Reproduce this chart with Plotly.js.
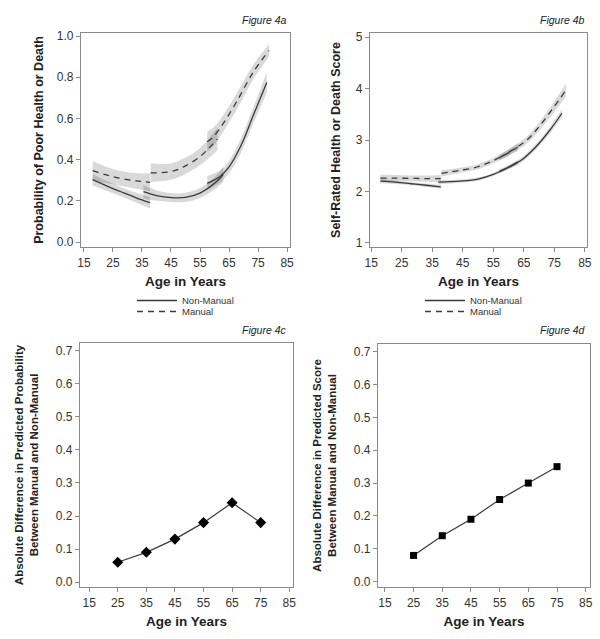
<!DOCTYPE html>
<html>
<head>
<meta charset="utf-8">
<script src="https://cdn.plot.ly/plotly-3.0.1.min.js"></script>
<style>
  html, body { margin: 0; padding: 0; background: #fff; }
  #chart { width: 600px; height: 639px; }
</style>
</head>
<body>
<div id="chart"></div>
<script>
// ---- Figure 4a: probability of poor health or death (age segments) ----
const a_nm1_x = [18, 23, 28, 33, 37.8];
const a_nm1_y = [0.303, 0.272, 0.243, 0.215, 0.191];
const a_nm1_ci = [0.028, 0.024, 0.022, 0.024, 0.028];
const a_nm2_x = [35.5, 40, 45, 50, 55, 60, 63];
const a_nm2_y = [0.245, 0.226, 0.216, 0.217, 0.238, 0.285, 0.328];
const a_nm2_ci = [0.032, 0.026, 0.022, 0.022, 0.024, 0.03, 0.035];
const a_nm3_x = [57.5, 62, 65, 69, 73.5, 78];
const a_nm3_y = [0.285, 0.32, 0.365, 0.465, 0.62, 0.775];
const a_nm3_ci = [0.035, 0.03, 0.03, 0.035, 0.04, 0.05];

const a_m1_x = [18, 23, 28, 33, 37.8];
const a_m1_y = [0.347, 0.325, 0.308, 0.297, 0.29];
const a_m1_ci = [0.047, 0.04, 0.036, 0.038, 0.043];
const a_m2_x = [38, 45, 50, 55, 58, 61];
const a_m2_y = [0.336, 0.342, 0.37, 0.415, 0.455, 0.5];
const a_m2_ci = [0.045, 0.04, 0.04, 0.042, 0.048, 0.055];
const a_m3_x = [57.5, 59.6, 63, 67.6, 73.4, 78.8];
const a_m3_y = [0.487, 0.511, 0.576, 0.681, 0.827, 0.93];
const a_m3_ci = [0.05, 0.045, 0.04, 0.04, 0.035, 0.03];

// ---- Figure 4b: self-rated health or death score ----
const b_nm1_x = [18, 23, 28, 33, 37.8];
const b_nm1_y = [2.2, 2.18, 2.15, 2.12, 2.09];
const b_nm1_ci = [0.04, 0.035, 0.03, 0.035, 0.04];
const b_nm2_x = [37, 44, 50, 55, 60, 63];
const b_nm2_y = [2.18, 2.2, 2.24, 2.33, 2.47, 2.57];
const b_nm2_ci = [0.04, 0.03, 0.03, 0.03, 0.035, 0.04];
const b_nm3_x = [57, 60, 64, 69, 73.5, 77.5];
const b_nm3_y = [2.39, 2.47, 2.6, 2.87, 3.19, 3.52];
const b_nm3_ci = [0.04, 0.04, 0.045, 0.05, 0.065, 0.08];

const b_m1_x = [18, 23, 28, 33, 37.8];
const b_m1_y = [2.26, 2.258, 2.255, 2.25, 2.25];
const b_m1_ci = [0.07, 0.06, 0.055, 0.06, 0.07];
const b_m2_x = [38, 44, 50, 55, 60, 63];
const b_m2_y = [2.35, 2.41, 2.48, 2.6, 2.75, 2.86];
const b_m2_ci = [0.06, 0.05, 0.05, 0.05, 0.06, 0.07];
const b_m3_x = [57, 60, 66, 70, 74.6, 78.8];
const b_m3_y = [2.66, 2.76, 3.0, 3.26, 3.62, 3.97];
const b_m3_ci = [0.06, 0.06, 0.07, 0.08, 0.1, 0.13];

// ---- Figures 4c / 4d: absolute difference ----
const diffAges = [25, 35, 45, 55, 65, 75];
const diffProb = [0.06, 0.09, 0.13, 0.18, 0.24, 0.18];
const diffScore = [0.08, 0.14, 0.19, 0.25, 0.30, 0.35];

const ageTicks = [15, 25, 35, 45, 55, 65, 75, 85];
const probTicks = [0, 0.2, 0.4, 0.6, 0.8, 1.0];
const scoreTicks = [1, 2, 3, 4, 5];
const diffTicks = [0, 0.1, 0.2, 0.3, 0.4, 0.5, 0.6, 0.7];

const W = 600, H = 639;
const FONT = 'Liberation Sans, Arial, sans-serif';
const INK = '#333333';
const FRAME = '#8a8a8a';
const BAND = 'rgba(0,0,0,0.15)';
const DASH = '6px,5px';

const bands = [];
const lines = [];

// one age segment: lower/upper band edges, then the fitted line on top
function segment(x, y, ci, dashed, xa, ya, name, legendId) {
    bands.push({
        x: x, y: y.map((v, i) => v - ci[i]), xaxis: xa, yaxis: ya,
        type: 'scatter', mode: 'lines', line: { width: 0, shape: 'spline' },
        showlegend: false, hoverinfo: 'skip'
    });
    bands.push({
        x: x, y: y.map((v, i) => v + ci[i]), xaxis: xa, yaxis: ya,
        type: 'scatter', mode: 'lines', line: { width: 0, shape: 'spline' },
        fill: 'tonexty', fillcolor: BAND, showlegend: false, hoverinfo: 'skip'
    });
    lines.push({
        x: x, y: y, xaxis: xa, yaxis: ya, name: name,
        type: 'scatter', mode: 'lines',
        line: { color: '#3a3a3a', width: 1.3, shape: 'spline', dash: dashed ? DASH : 'solid' },
        showlegend: !!legendId, legend: legendId || 'legend'
    });
}

segment(a_nm1_x, a_nm1_y, a_nm1_ci, false, 'x', 'y', 'Non-Manual', 'legend');
segment(a_nm2_x, a_nm2_y, a_nm2_ci, false, 'x', 'y', 'Non-Manual');
segment(a_nm3_x, a_nm3_y, a_nm3_ci, false, 'x', 'y', 'Non-Manual');
segment(a_m1_x, a_m1_y, a_m1_ci, true, 'x', 'y', 'Manual', 'legend2');
segment(a_m2_x, a_m2_y, a_m2_ci, true, 'x', 'y', 'Manual');
segment(a_m3_x, a_m3_y, a_m3_ci, true, 'x', 'y', 'Manual');

segment(b_nm1_x, b_nm1_y, b_nm1_ci, false, 'x2', 'y2', 'Non-Manual', 'legend3');
segment(b_nm2_x, b_nm2_y, b_nm2_ci, false, 'x2', 'y2', 'Non-Manual');
segment(b_nm3_x, b_nm3_y, b_nm3_ci, false, 'x2', 'y2', 'Non-Manual');
segment(b_m1_x, b_m1_y, b_m1_ci, true, 'x2', 'y2', 'Manual', 'legend4');
segment(b_m2_x, b_m2_y, b_m2_ci, true, 'x2', 'y2', 'Manual');
segment(b_m3_x, b_m3_y, b_m3_ci, true, 'x2', 'y2', 'Manual');

const diffTraces = [
    {
        x: diffAges, y: diffProb, xaxis: 'x3', yaxis: 'y3', type: 'scatter', mode: 'lines+markers',
        line: { color: '#3a3a3a', width: 1.2 },
        marker: { symbol: 'diamond', size: 8.5, color: '#000' }, showlegend: false
    },
    {
        x: diffAges, y: diffScore, xaxis: 'x4', yaxis: 'y4', type: 'scatter', mode: 'lines+markers',
        line: { color: '#3a3a3a', width: 1.2 },
        marker: { symbol: 'square', size: 7, color: '#000' }, showlegend: false
    }
];

// pixel box -> paper domain
const dx = (l, r) => [l / W, r / W];
const dy = (t, b) => [1 - b / H, 1 - t / H];

function xAxis(domain, range, anchor) {
    return {
        domain: domain, range: range, anchor: anchor,
        tickvals: ageTicks, ticks: 'outside', ticklen: 4, tickcolor: FRAME,
        showline: true, linecolor: FRAME, linewidth: 1.2, mirror: true,
        showgrid: false, zeroline: false,
        tickfont: { family: FONT, size: 12, color: INK },
        title: { text: 'Age in Years', standoff: 8, font: { family: FONT, size: 13.5, color: '#222', weight: 'bold' } }
    };
}
function yAxis(domain, range, anchor, ticks, fmt, title, size, standoff) {
    return {
        domain: domain, range: range, anchor: anchor,
        tickvals: ticks, tickformat: fmt, ticks: 'outside', ticklen: 4, tickcolor: FRAME,
        showline: true, linecolor: FRAME, linewidth: 1.2, mirror: true,
        showgrid: false, zeroline: false,
        tickfont: { family: FONT, size: 12, color: INK },
        title: { text: title, standoff: standoff, font: { family: FONT, size: size, color: '#222', weight: 'bold' } }
    };
}

function figLabel(text, xr, yc) {
    return {
        text: text, xref: 'paper', yref: 'paper', x: xr / W, y: 1 - yc / H,
        xanchor: 'right', yanchor: 'middle', showarrow: false,
        font: { family: FONT, size: 10.5, color: '#222', style: 'italic' }
    };
}

// each legend row is its own legend so the rows can sit closer than Plotly's default spacing
function legendRow(xl, yt) {
    return {
        x: xl / W, y: 1 - yt / H, xanchor: 'left', yanchor: 'top',
        bgcolor: 'rgba(0,0,0,0)', borderwidth: 0, itemwidth: 40,
        font: { family: FONT, size: 9.5, color: INK }
    };
}

const layout = {
    width: W, height: H,
    margin: { l: 0, r: 0, t: 0, b: 0 },
    paper_bgcolor: '#fff', plot_bgcolor: '#fff',
    showlegend: true,
    xaxis: xAxis(dx(81, 290), [14, 86], 'y'),
    yaxis: yAxis(dy(33, 247), [-0.024, 1.015], 'x', probTicks, '.1f',
        'Probability of Poor Health or Death', 12.5, 10),
    xaxis2: xAxis(dx(370, 587), [14.6, 85.7], 'y2'),
    yaxis2: yAxis(dy(33, 247), [0.92, 5.08], 'x2', scoreTicks, 'd',
        'Self-Rated Health or Death Score', 12.5, 12),
    xaxis3: xAxis(dx(80, 293), [11.8, 86.3], 'y3'),
    yaxis3: yAxis(dy(343, 587), [-0.015, 0.724], 'x3', diffTicks, '.1f',
        'Absolute Difference in Predicted Probability<br>Between Manual and Non-Manual', 11.5, 14),
    xaxis4: xAxis(dx(378, 590), [12.6, 86.5], 'y4'),
    yaxis4: yAxis(dy(344, 587), [-0.016, 0.723], 'x4', diffTicks, '.1f',
        'Absolute Difference in Predicted Score<br>Between Manual and Non-Manual', 11.5, 14),
    legend: legendRow(132, 286),
    legend2: legendRow(132, 297),
    legend3: legendRow(420, 286),
    legend4: legendRow(420, 297),
    annotations: [
        figLabel('Figure 4a', 289, 20),
        figLabel('Figure 4b', 587, 20),
        figLabel('Figure 4c', 289, 330),
        figLabel('Figure 4d', 588, 330)
    ]
};

Plotly.newPlot('chart', bands.concat(lines, diffTraces), layout, { staticPlot: true, displayModeBar: false })
    .catch((error) => {
        console.error('Error plotting the graph:', error);
    });
</script>
</body>
</html>
